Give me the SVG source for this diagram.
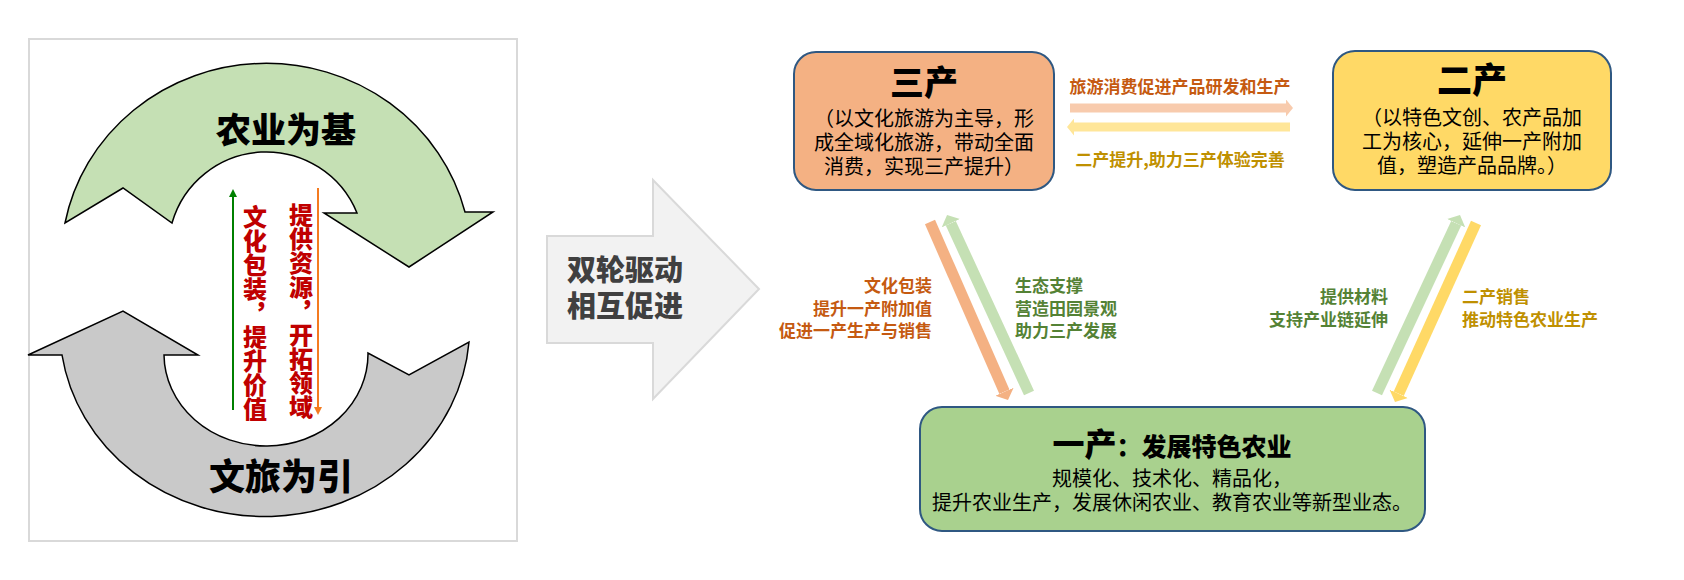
<svg xmlns="http://www.w3.org/2000/svg" width="1684" height="580" viewBox="0 0 1684 580">
<style>
text{font-family:"Noto Sans CJK SC","Noto Sans",sans-serif;}
.b{font-weight:700;}
.k{font-weight:900;}
.box{stroke:#2f5882;stroke-width:2;}
.body{font-size:20px;fill:#000;text-anchor:middle;}
.org{fill:#c55a11;font-weight:700;font-size:17px;}
.grn{fill:#548235;font-weight:700;font-size:17px;}
.gld{fill:#bf9000;font-weight:700;font-size:17px;}
.vt{writing-mode:vertical-rl;font-size:24px;font-weight:900;fill:#c00000;}
</style>
<defs>
<marker id="hOr" markerUnits="userSpaceOnUse" viewBox="0 0 9 20" markerWidth="9" markerHeight="20" refX="0" refY="10" orient="auto"><path d="M0,0 L9,10 L0,20 Z" fill="#f4b183"/></marker>
<marker id="hGr" markerUnits="userSpaceOnUse" viewBox="0 0 9 20" markerWidth="9" markerHeight="20" refX="0" refY="10" orient="auto"><path d="M0,0 L9,10 L0,20 Z" fill="#c5e0b4"/></marker>
<marker id="hYe" markerUnits="userSpaceOnUse" viewBox="0 0 9 20" markerWidth="9" markerHeight="20" refX="0" refY="10" orient="auto"><path d="M0,0 L9,10 L0,20 Z" fill="#ffd966"/></marker>
<marker id="hPk" markerUnits="userSpaceOnUse" viewBox="0 0 7 17" markerWidth="7" markerHeight="17" refX="0" refY="8.5" orient="auto"><path d="M0,0 L7,8.5 L0,17 Z" fill="#f8cbad"/></marker>
<marker id="hLy" markerUnits="userSpaceOnUse" viewBox="0 0 7 17" markerWidth="7" markerHeight="17" refX="0" refY="8.5" orient="auto"><path d="M0,0 L7,8.5 L0,17 Z" fill="#ffe699"/></marker>
<marker id="sG" markerUnits="userSpaceOnUse" viewBox="0 0 8 8" markerWidth="8" markerHeight="8" refX="1" refY="4" orient="auto"><path d="M0,0 L8,4 L0,8 Z" fill="#008000"/></marker>
<marker id="sO" markerUnits="userSpaceOnUse" viewBox="0 0 8 8" markerWidth="8" markerHeight="8" refX="1" refY="4" orient="auto"><path d="M0,0 L8,4 L0,8 Z" fill="#f47b20"/></marker>
</defs>

<g id="left-panel">
<rect x="29" y="39" width="488" height="502" fill="#fff" stroke="#d9d9d9" stroke-width="2"/>
<path id="agri-arrow" d="M65,223 A205,197 0 0 1 465,212 L493,212 L409,267 L324,213 L357,213 A98,98 0 0 0 172,223 L123,188 Z" fill="#c5e0b4" stroke="#000" stroke-width="1.5" stroke-linejoin="miter"/>
<path id="tour-arrow" d="M28,355 L123,311 L198,355 L164,355 A102,92 0 0 0 368,353 L409,375 L469,342 A205,190 0 0 1 62,355 Z" fill="#c9c9c9" stroke="#000" stroke-width="1.5"/>
<text class="k" x="286" y="143" font-size="35" text-anchor="middle" fill="#000">农业为基</text>
<text class="k" x="281" y="490" font-size="36" text-anchor="middle" fill="#000">文旅为引</text>
<line x1="233" y1="410" x2="233" y2="196" stroke="#008000" stroke-width="2" marker-end="url(#sG)"/>
<line x1="318" y1="188" x2="318" y2="408" stroke="#f47b20" stroke-width="2" marker-end="url(#sO)"/>
<text class="vt" x="255" y="205">文化包装，提升价值</text>
<text class="vt" x="301" y="203">提供资源，开拓领域</text>
</g>

<g id="drive-arrow">
<path d="M547,236 L653,236 L653,180 L759,289 L653,399 L653,343 L547,343 Z" fill="#f2f2f2" stroke="#d9d9d9" stroke-width="2"/>
<text class="k" x="567" y="281" font-size="29" fill="#404040">双轮驱动<tspan x="567" y="317">相互促进</tspan></text>
</g>

<g id="connectors">
<line x1="1070" y1="108" x2="1286" y2="108" stroke="#f8cbad" stroke-width="9" marker-end="url(#hPk)"/>
<line x1="1290" y1="127" x2="1074" y2="127" stroke="#ffe699" stroke-width="9" marker-end="url(#hLy)"/>
<line x1="930" y1="222" x2="1004.4" y2="391.8" stroke="#f4b183" stroke-width="11" marker-end="url(#hOr)"/>
<line x1="1029" y1="393" x2="950.8" y2="223.2" stroke="#c5e0b4" stroke-width="11" marker-end="url(#hGr)"/>
<line x1="1377" y1="393" x2="1456.2" y2="223.2" stroke="#c5e0b4" stroke-width="11" marker-end="url(#hGr)"/>
<line x1="1476" y1="223" x2="1398.7" y2="393.8" stroke="#ffd966" stroke-width="11" marker-end="url(#hYe)"/>
<text class="org" x="1180" y="93" text-anchor="middle">旅游消费促进产品研发和生产</text>
<text class="gld" x="1180" y="166" text-anchor="middle">二产提升,助力三产体验完善</text>
<text class="org" text-anchor="end" x="932" y="292">文化包装<tspan x="932" y="315">提升一产附加值</tspan><tspan x="932" y="337">促进一产生产与销售</tspan></text>
<text class="grn" x="1015" y="292">生态支撑<tspan x="1015" y="315">营造田园景观</tspan><tspan x="1015" y="337">助力三产发展</tspan></text>
<text class="grn" text-anchor="end" x="1388" y="303">提供材料<tspan x="1388" y="326">支持产业链延伸</tspan></text>
<text class="gld" x="1462" y="303">二产销售<tspan x="1462" y="326">推动特色农业生产</tspan></text>
</g>

<g id="tertiary">
<rect class="box" x="794" y="52" width="260" height="138" rx="22" fill="#f4b183"/>
<text class="k" x="924" y="95" font-size="34" text-anchor="middle" fill="#000">三产</text>
<text class="body" x="924" y="126">（以文化旅游为主导，形<tspan x="924" y="150">成全域化旅游，带动全面</tspan><tspan x="924" y="174">消费，实现三产提升）</tspan></text>
</g>

<g id="secondary">
<rect class="box" x="1333" y="51" width="278" height="139" rx="22" fill="#ffd966"/>
<text class="k" x="1472" y="93" font-size="35" text-anchor="middle" fill="#000">二产</text>
<text class="body" x="1472" y="125" font-size="21">（以特色文创、农产品加<tspan x="1472" y="149">工为核心，延伸一产附加</tspan><tspan x="1472" y="173">值，塑造产品品牌。）</tspan></text>
</g>

<g id="primary">
<rect class="box" x="920" y="407" width="505" height="124" rx="22" fill="#a9d18e"/>
<text class="k" x="1172" y="456" text-anchor="middle" fill="#000"><tspan font-size="32">一产</tspan><tspan font-size="25">：发展特色农业</tspan></text>
<text class="body" x="1172" y="486" font-size="19">规模化、技术化、精品化，<tspan x="1172" y="510">提升农业生产，发展休闲农业、教育农业等新型业态。</tspan></text>
</g>
</svg>
